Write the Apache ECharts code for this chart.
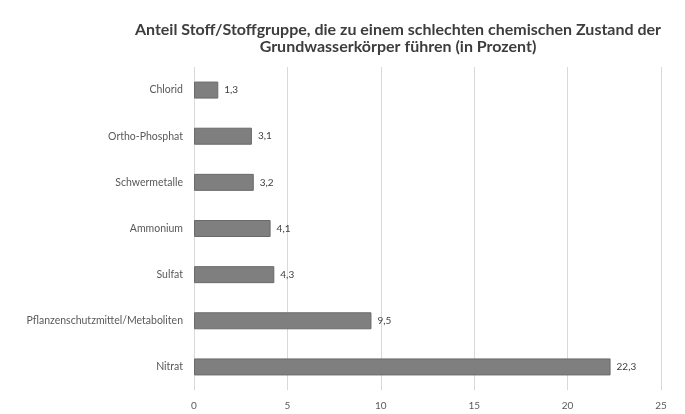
<!DOCTYPE html>
<html><head><meta charset="utf-8">
<script src="https://cdn.jsdelivr.net/npm/echarts@6/dist/echarts.min.js"></script>
<style>html,body{margin:0;padding:0;background:#fff}#c{width:685px;height:414px}</style>
</head><body><div id="c"></div>
<script>
const categories = ["Chlorid","Ortho-Phosphat","Schwermetalle","Ammonium","Sulfat","Pflanzenschutzmittel/Metaboliten","Nitrat"];
const values = [1.3, 3.1, 3.2, 4.1, 4.3, 9.5, 22.3];
const titleLines = ["Anteil Stoff/Stoffgruppe, die zu einem schlechten chemischen Zustand der","Grundwasserkörper führen (in Prozent)"];
const chart = echarts.init(document.getElementById('c'));
chart.setOption({
  animation:false,
  backgroundColor:'#fff',
  title:{text:titleLines.join('\n'),left:393,top:16,textAlign:'center',
    textStyle:{fontFamily:'Lato',fontSize:16,fontWeight:'bold',color:'#3d3d3d',lineHeight:17}},
  grid:{left:194,right:24,top:67,bottom:24},
  xAxis:{type:'value',min:0,max:25,interval:5,
    axisLine:{show:false},axisTick:{show:false},
    axisLabel:{fontFamily:'Lato',fontSize:10,color:'#595959',margin:11,formatter:v=>String(v)},
    splitLine:{lineStyle:{color:'#d9d9d9',width:1}}},
  yAxis:{type:'category',inverse:true,data:categories,
    axisLine:{show:false},axisTick:{show:false},
    axisLabel:{fontFamily:'Lato',fontSize:10.5,color:'#595959',margin:11}},
  series:[{type:'bar',data:values,barWidth:17,
    itemStyle:{color:'#7f7f7f',borderColor:'#6a6a6a',borderWidth:1},
    label:{show:true,position:'right',distance:6,fontFamily:'Lato',fontSize:10,color:'#404040',
      formatter:p=>String(p.value).replace('.',',')}}]
});
</script></body></html>
